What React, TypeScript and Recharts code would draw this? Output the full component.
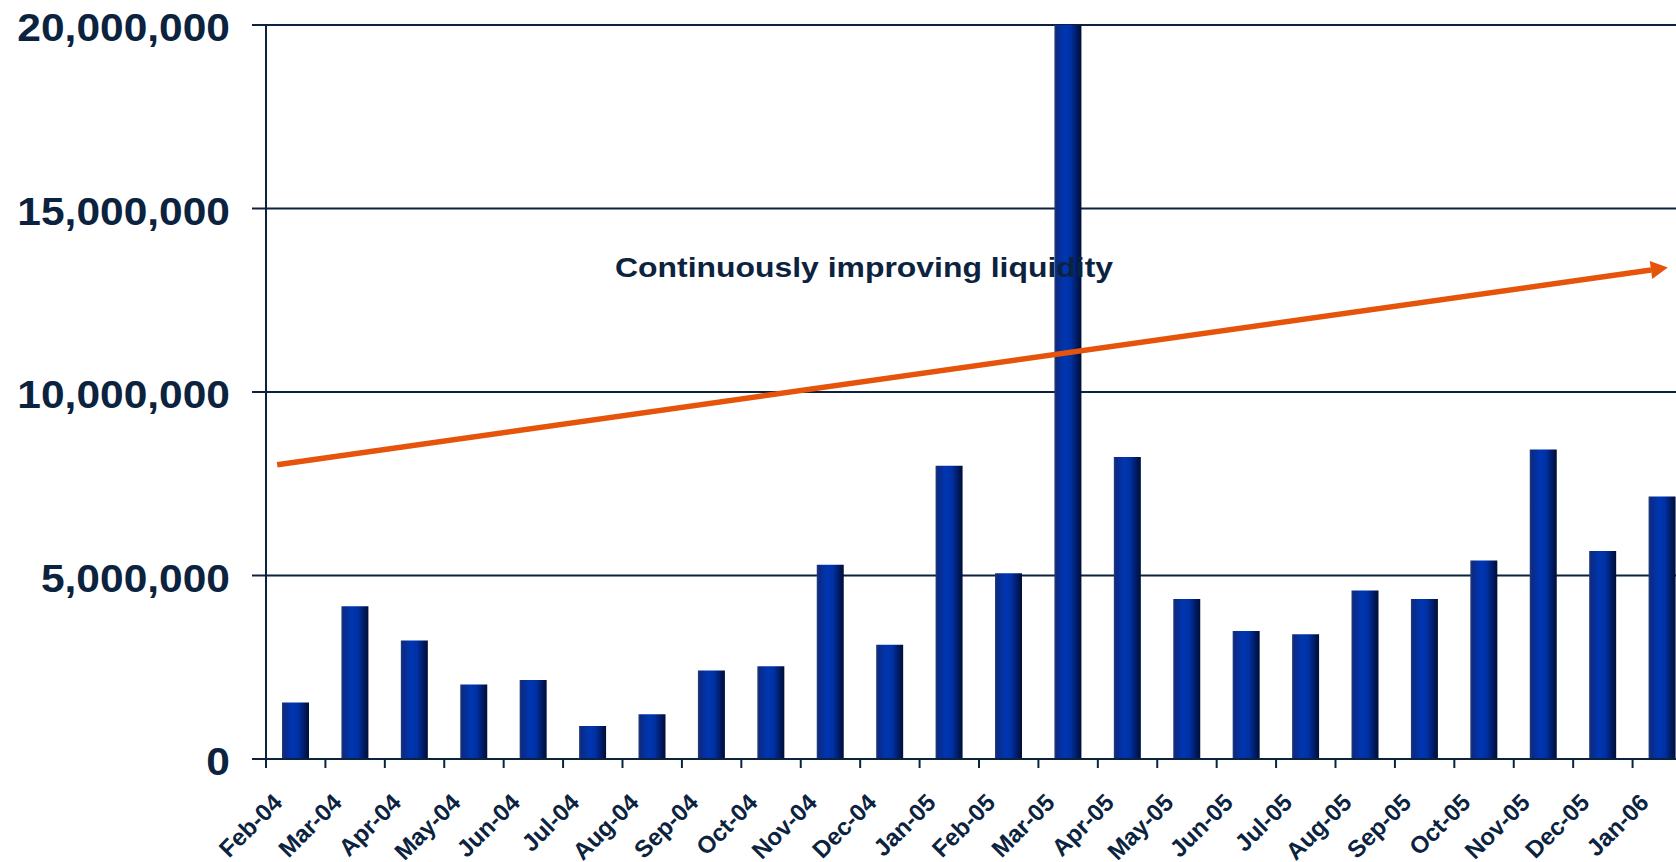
import React from 'react';
import { BarChart, Bar, XAxis, YAxis, CartesianGrid, ReferenceLine, ReferenceDot } from 'recharts';

// monthly trading volume
const months = [
  'Feb-04', 'Mar-04', 'Apr-04', 'May-04', 'Jun-04', 'Jul-04', 'Aug-04', 'Sep-04',
  'Oct-04', 'Nov-04', 'Dec-04', 'Jan-05', 'Feb-05', 'Mar-05', 'Apr-05', 'May-05',
  'Jun-05', 'Jul-05', 'Aug-05', 'Sep-05', 'Oct-05', 'Nov-05', 'Dec-05', 'Jan-06',
];
const volumes = [
  1540000, 4160000, 3230000, 2030000, 2150000, 900000, 1220000, 2410000,
  2530000, 5290000, 3110000, 7990000, 5060000, 20000000, 8230000, 4360000,
  3490000, 3400000, 4590000, 4360000, 5410000, 8430000, 5670000, 7150000,
];
const yTicks = [0, 5000000, 10000000, 15000000, 20000000];

// trend arrow, placed on a hidden 0..23 axis spanning the plot width
const trendStart = { x: 0.18, y: 8020000 };
const trendEnd = { x: 22.61, y: 13390000 };
const trendLabel = 'Continuously improving liquidity';
const trendLabelAt = { x: 5.63, y: 13120000 };

const NAVY = '#0c2340';
const ORANGE = '#e6540c';
const FONT = '"Liberation Sans", Arial, Helvetica, sans-serif';

const CHART_W = 1703;
const CHART_H = 862;
const Y_W = 266;
const MARGIN_R = 11;
const BAND = (CHART_W - Y_W - MARGIN_R) / months.length;

const data = months.map((m, i) => ({ month: m, volume: volumes[i] }));

const XTick = ({ x, y, payload }: any) => {
  const tx = x - 12;
  const ty = y + 45;
  return (
    <g>
      <line x1={x - BAND / 2} y1={y} x2={x - BAND / 2} y2={y + 9} stroke={NAVY} strokeWidth={2} />
      <text
        x={tx}
        y={ty}
        transform={`rotate(-45, ${tx}, ${ty})`}
        textAnchor="end"
        fontSize={24}
        fontWeight="bold"
        fontFamily={FONT}
        fill={NAVY}
      >
        {payload.value}
      </text>
    </g>
  );
};

const YTick = ({ x, y, payload }: any) => (
  <g transform={`translate(${x},${y + 16}) scale(1.09,1)`}>
    <text x={0} y={0} textAnchor="end" fontSize={39} fontWeight="bold" fontFamily={FONT} fill={NAVY}>
      {Number(payload.value).toLocaleString('en-US')}
    </text>
  </g>
);

const Arrow = (props: any) => {
  const { x1, y1, x2, y2 } = props;
  const len = Math.hypot(x2 - x1, y2 - y1);
  const ux = (x2 - x1) / len;
  const uy = (y2 - y1) / len;
  const bx = x2 - ux * 17;
  const by = y2 - uy * 17;
  const nx = -uy * 9;
  const ny = ux * 9;
  return (
    <g>
      <line x1={x1} y1={y1} x2={bx} y2={by} stroke={ORANGE} strokeWidth={5.5} />
      <polygon points={`${x2},${y2} ${bx + nx},${by + ny} ${bx - nx},${by - ny}`} fill={ORANGE} />
    </g>
  );
};

const TrendText = (props: any) => (
  <text
    x={props.cx}
    y={props.cy}
    fontSize={27}
    fontWeight="bold"
    fontFamily={FONT}
    fill={NAVY}
    textLength={498}
    lengthAdjust="spacingAndGlyphs"
  >
    {trendLabel}
  </text>
);

export default function App() {
  return (
    <div style={{ position: 'fixed', left: 0, top: 0, width: 1676, height: 862, overflow: 'hidden', background: '#fff' }}>
      <BarChart
        width={CHART_W}
        height={CHART_H}
        data={data}
        barSize={27}
        margin={{ top: 25, right: MARGIN_R, bottom: 0, left: 0 }}
      >
        <defs>
          <linearGradient id="barGrad" x1="0" y1="0" x2="1" y2="0">
            <stop offset="0%" stopColor="#2a3c70" />
            <stop offset="8%" stopColor="#0a2a86" />
            <stop offset="38%" stopColor="#0036b2" />
            <stop offset="60%" stopColor="#0031a4" />
            <stop offset="85%" stopColor="#00195e" />
            <stop offset="100%" stopColor="#000f35" />
          </linearGradient>
        </defs>
        <CartesianGrid vertical={false} stroke={NAVY} strokeWidth={2} />
        <XAxis
          dataKey="month"
          height={103}
          interval={0}
          tickSize={0}
          tickMargin={0}
          tickLine={false}
          axisLine={{ stroke: NAVY, strokeWidth: 2 }}
          tick={<XTick />}
        />
        <XAxis
          xAxisId="num"
          type="number"
          domain={[0, months.length - 1]}
          allowDataOverflow
          padding={{ left: 0, right: 0 }}
          hide
        />
        <YAxis
          width={Y_W}
          domain={[0, 20000000]}
          ticks={yTicks}
          interval={0}
          tickSize={14}
          tickMargin={22}
          tickLine={{ stroke: NAVY, strokeWidth: 2 }}
          axisLine={{ stroke: NAVY, strokeWidth: 2 }}
          tick={<YTick />}
        />
        <ReferenceDot
          xAxisId="num"
          x={trendLabelAt.x}
          y={trendLabelAt.y}
          shape={TrendText}
          ifOverflow="visible"
        />
        <Bar dataKey="volume" fill="url(#barGrad)" isAnimationActive={false} />
        <ReferenceLine
          xAxisId="num"
          segment={[trendStart, trendEnd]}
          shape={Arrow}
          ifOverflow="visible"
        />
      </BarChart>
    </div>
  );
}
